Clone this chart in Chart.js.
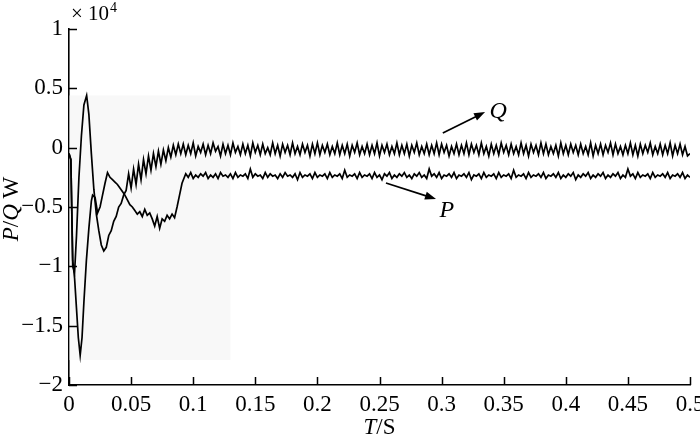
<!DOCTYPE html>
<html>
<head>
<meta charset="utf-8">
<script src="https://cdn.jsdelivr.net/npm/chart.js@4"></script>
<style>
  html, body { margin: 0; padding: 0; background: #fff; }
  #wrap { width: 700px; height: 438px; position: relative; }
</style>
</head>
<body>
<div id="wrap"><canvas id="pq-chart"></canvas></div>
<script>
/* ── DATA (values in units of 10^4 W) ── */
const X_TICKS  = [0, 0.05, 0.1, 0.15, 0.2, 0.25, 0.3, 0.35, 0.4, 0.45, 0.5];
const X_LABELS = ['0', '0.05', '0.1', '0.15', '0.2', '0.25', '0.3', '0.35', '0.4', '0.45', '0.5'];
const Y_TICKS  = [1, 0.5, 0, -0.5, -1, -1.5, -2];
const Y_LABELS = ['1', '0.5', '0', '\u22120.5', '\u22121', '\u22121.5', '\u22122'];

// start-up transient, read point by point
const Q_T = [0, 0.0015, 0.003, 0.0045, 0.006, 0.008, 0.010, 0.012, 0.0142, 0.016, 0.018, 0.020,
             0.022, 0.024, 0.026, 0.028, 0.030, 0.032, 0.034, 0.036, 0.038, 0.040, 0.042, 0.044];
const Q_V = [-0.05, -0.1, -1.0, -1.05, -0.75, -0.25, 0.1, 0.36, 0.44, 0.28, -0.05, -0.35,
             -0.56, -0.70, -0.82, -0.87, -0.84, -0.74, -0.70, -0.62, -0.58, -0.50, -0.47, -0.40];

const P_T = [0, 0.0015, 0.003, 0.0045, 0.006, 0.0075, 0.009, 0.0105, 0.012, 0.014, 0.016, 0.018,
             0.019, 0.021, 0.023, 0.025, 0.027, 0.029, 0.031, 0.033, 0.035, 0.037, 0.039, 0.041,
             0.043, 0.045, 0.047, 0.049, 0.051, 0.053, 0.055, 0.057, 0.059, 0.061, 0.063, 0.065,
             0.067, 0.069, 0.071, 0.073, 0.075, 0.077, 0.079, 0.081, 0.083, 0.085, 0.087, 0.089, 0.091];
const P_V = [-0.05, -0.1, -0.95, -1.1, -1.35, -1.6, -1.75, -1.6, -1.3, -0.95, -0.68, -0.45,
             -0.40, -0.42, -0.55, -0.50, -0.40, -0.30, -0.21, -0.25, -0.27, -0.29, -0.31, -0.34,
             -0.37, -0.40, -0.44, -0.48, -0.50, -0.53, -0.56, -0.54, -0.58, -0.52, -0.57, -0.55,
             -0.60, -0.66, -0.58, -0.68, -0.60, -0.62, -0.57, -0.60, -0.56, -0.59, -0.50, -0.40, -0.30];

// ripple section, sampled every SAMPLE_DT seconds
const SAMPLE_DT = 0.002;
const Q_RIPPLE_T0 = 0.046;
const Q_RIPPLE = [
  -0.36, -0.22, -0.34, -0.18, -0.31, -0.14, -0.27, -0.10, -0.22, -0.07,
  -0.19, -0.05, -0.16, -0.03, -0.14, -0.02, -0.11, 0.00, -0.08, 0.02,
  -0.06, 0.03, -0.05,
  0.03, -0.06, 0.02, -0.05, 0.04, -0.07, 0.01, -0.04, 0.03, -0.06,
  0.02, -0.05, 0.04, -0.03, 0.01, -0.07, 0.03, -0.05, 0.02, -0.06,
  0.04, -0.04, 0.01, -0.06, 0.03, -0.05, 0.02, -0.07, 0.04, -0.04,
  0.02, -0.06, 0.03, -0.05, 0.00, -0.06, 0.04, -0.05, 0.02, -0.07,
  0.03, -0.04, 0.02, -0.06, 0.04, -0.05, 0.01, -0.06, 0.03, -0.04,
  0.02, -0.07, 0.03, -0.05, 0.04, -0.06, 0.02, -0.04, 0.03, -0.06,
  0.01, -0.05, 0.04, -0.06, 0.02, -0.05, 0.03, -0.07, 0.02, -0.04,
  0.04, -0.06, 0.01, -0.05, 0.03, -0.06, 0.02, -0.05, 0.04, -0.07,
  0.02, -0.04, 0.03, -0.06, 0.01, -0.05, 0.04, -0.06, 0.02, -0.05,
  0.03, -0.07, 0.02, -0.04, 0.04, -0.06, 0.01, -0.05, 0.03, -0.06,
  0.02, -0.05, 0.04, -0.06, 0.03, -0.04, 0.02, -0.07, 0.01, -0.05,
  0.03, -0.06, 0.02, -0.05, 0.04, -0.06, 0.03, -0.04, 0.02, -0.06,
  0.04, -0.05, 0.01, -0.07, 0.03, -0.05, 0.02, -0.06, 0.04, -0.04,
  0.02, -0.06, 0.03, -0.05, 0.01, -0.06, 0.04, -0.05, 0.02, -0.07,
  0.03, -0.04, 0.02, -0.06, 0.04, -0.05, 0.03, -0.06, 0.01, -0.05,
  0.02, -0.07, 0.04, -0.05, 0.02, -0.06, 0.03, -0.04, 0.02, -0.06,
  0.03, -0.05, 0.01, -0.06, 0.04, -0.07, 0.02, -0.05, 0.03, -0.06,
  0.02, -0.04, 0.04, -0.06, 0.03, -0.05, 0.01, -0.06, 0.02, -0.05,
  0.04, -0.06, 0.02, -0.07, 0.03, -0.05, 0.02, -0.04, 0.04, -0.06,
  0.01, -0.05, 0.03, -0.06, 0.02, -0.05, 0.04, -0.07, 0.02, -0.05,
  0.03, -0.06, 0.01, -0.07, -0.05
];

const P_RIPPLE_T0 = 0.094;
const P_RIPPLE = [
  -0.22, -0.25, -0.21, -0.26, -0.23, -0.25, -0.22, -0.24, -0.21, -0.26,
  -0.23, -0.25, -0.22, -0.26, -0.21, -0.24, -0.23, -0.25, -0.22, -0.26,
  -0.21, -0.25, -0.23, -0.24, -0.22, -0.26, -0.18, -0.25, -0.22, -0.24,
  -0.23, -0.26, -0.21, -0.25, -0.22, -0.24, -0.23, -0.26, -0.22, -0.25,
  -0.21, -0.24, -0.23, -0.25, -0.22, -0.27, -0.21, -0.25, -0.23, -0.24,
  -0.22, -0.26, -0.21, -0.25, -0.23, -0.24, -0.22, -0.26, -0.21, -0.25,
  -0.23, -0.24, -0.22, -0.26, -0.19, -0.25, -0.23, -0.24, -0.22, -0.26,
  -0.21, -0.25, -0.23, -0.24, -0.22, -0.26, -0.21, -0.25, -0.23, -0.27,
  -0.22, -0.24, -0.21, -0.26, -0.23, -0.25, -0.22, -0.24, -0.21, -0.25,
  -0.23, -0.26, -0.22, -0.24, -0.21, -0.25, -0.23, -0.26, -0.18, -0.24,
  -0.22, -0.25, -0.21, -0.26, -0.23, -0.24, -0.22, -0.25, -0.21, -0.26,
  -0.23, -0.24, -0.22, -0.25, -0.21, -0.27, -0.23, -0.24, -0.22, -0.26,
  -0.21, -0.25, -0.23, -0.24, -0.22, -0.26, -0.21, -0.25, -0.23, -0.24,
  -0.22, -0.26, -0.19, -0.25, -0.23, -0.24, -0.22, -0.26, -0.21, -0.25,
  -0.23, -0.24, -0.22, -0.25, -0.21, -0.26, -0.23, -0.24, -0.22, -0.25,
  -0.21, -0.26, -0.23, -0.25, -0.22, -0.24, -0.21, -0.27, -0.23, -0.25,
  -0.22, -0.24, -0.21, -0.26, -0.23, -0.25, -0.22, -0.24, -0.21, -0.26,
  -0.23, -0.25, -0.22, -0.24, -0.21, -0.26, -0.23, -0.25, -0.18, -0.24,
  -0.22, -0.26, -0.21, -0.25, -0.23, -0.24, -0.22, -0.26, -0.21, -0.25,
  -0.23, -0.24, -0.22, -0.25, -0.21, -0.26, -0.23, -0.24, -0.22, -0.25,
  -0.21, -0.26, -0.23, -0.25
];

// light grey box behind the transient, and the two arrow labels (data coords)
const SHADE = { t0: 0.0005, t1: 0.13, v0: -1.79, v1: 0.44 };
const ARROWS = [
  { label: 'Q', from: [0.301, 0.124], to: [0.335, 0.30], text: [0.3455, 0.305] },
  { label: 'P', from: [0.2552, -0.298], to: [0.2955, -0.4325], text: [0.3043, -0.534] },
];

/* ── HELPERS ── */
const SERIF = "'Liberation Serif', 'Times New Roman', serif";
const TICK_FONT = { family: SERIF, size: 23 };

function buildSeries(ts, vs, t0, ripple) {
  const pts = ts.map((t, i) => ({ x: t, y: vs[i] }));
  ripple.forEach((v, i) => pts.push({ x: +(t0 + i * SAMPLE_DT).toFixed(4), y: v }));
  return pts;
}

function drawRuns(ctx, runs, x, y, align) {
  let w = 0;
  runs.forEach(r => { ctx.font = r[1]; w += ctx.measureText(r[0]).width; });
  let cx = align === 'center' ? x - w / 2 : x;
  runs.forEach(r => {
    ctx.font = r[1];
    ctx.fillText(r[0], cx, y);
    cx += ctx.measureText(r[0]).width;
  });
}

/* ── PLUGINS ── */
const shadePlugin = {
  id: 'shade',
  beforeDatasetsDraw(chart) {
    const { ctx, scales: { x, y } } = chart;
    const l = x.getPixelForValue(SHADE.t0), r = x.getPixelForValue(SHADE.t1);
    const t = y.getPixelForValue(SHADE.v1), b = y.getPixelForValue(SHADE.v0);
    ctx.save();
    ctx.fillStyle = '#f8f8f8';
    ctx.fillRect(l, t, r - l, b - t);
    ctx.restore();
  },
};

const decorPlugin = {
  id: 'decor',
  afterDraw(chart) {
    const { ctx, chartArea: a, scales: { x, y } } = chart;
    ctx.save();
    ctx.strokeStyle = '#000';
    ctx.fillStyle = '#000';
    ctx.lineWidth = 1.5;

    // inward tick marks
    ctx.beginPath();
    X_TICKS.forEach(v => {
      const px = Math.round(x.getPixelForValue(v)) + 0.5;
      ctx.moveTo(px, a.bottom); ctx.lineTo(px, a.bottom - 8);
    });
    Y_TICKS.forEach(v => {
      const py = Math.round(y.getPixelForValue(v)) + 0.5;
      ctx.moveTo(a.left, py); ctx.lineTo(a.left + 8, py);
    });
    ctx.stroke();

    // arrows + labels
    ARROWS.forEach(ar => {
      const x0 = x.getPixelForValue(ar.from[0]), y0 = y.getPixelForValue(ar.from[1]);
      const x1 = x.getPixelForValue(ar.to[0]),   y1 = y.getPixelForValue(ar.to[1]);
      const ang = Math.atan2(y1 - y0, x1 - x0);
      const hl = 11, hw = 4;
      ctx.lineWidth = 1.7;
      ctx.beginPath();
      ctx.moveTo(x0, y0);
      ctx.lineTo(x1 - Math.cos(ang) * hl * 0.8, y1 - Math.sin(ang) * hl * 0.8);
      ctx.stroke();
      ctx.beginPath();
      ctx.moveTo(x1, y1);
      ctx.lineTo(x1 - Math.cos(ang) * hl - Math.sin(ang) * hw, y1 - Math.sin(ang) * hl + Math.cos(ang) * hw);
      ctx.lineTo(x1 - Math.cos(ang) * hl + Math.sin(ang) * hw, y1 - Math.sin(ang) * hl - Math.cos(ang) * hw);
      ctx.closePath();
      ctx.fill();
      ctx.font = 'italic 24px ' + SERIF;
      ctx.textAlign = 'center';
      ctx.textBaseline = 'middle';
      ctx.fillText(ar.label, x.getPixelForValue(ar.text[0]), y.getPixelForValue(ar.text[1]));
    });

    // x10^4 multiplier above the y axis
    ctx.textAlign = 'left';
    ctx.textBaseline = 'alphabetic';
    ctx.font = '21px ' + SERIF;
    ctx.fillText('\u00d7 10', a.left + 2, 20);
    const w = ctx.measureText('\u00d7 10').width;
    ctx.font = '14px ' + SERIF;
    ctx.fillText('4', a.left + 3 + w, 12);

    // axis titles with italic symbols
    ctx.textBaseline = 'middle';
    drawRuns(ctx, [['T', 'italic 23px ' + SERIF], ['/S', '23px ' + SERIF]],
             (a.left + a.right) / 2, 428, 'center');
    ctx.translate(12, (a.top + a.bottom) / 2 + 2);
    ctx.rotate(-Math.PI / 2);
    drawRuns(ctx, [['P', 'italic 23px ' + SERIF], ['/', '23px ' + SERIF],
                   ['Q', 'italic 23px ' + SERIF], [' W', '23px ' + SERIF]], 0, 0, 'center');
    ctx.restore();
  },
};

/* ── CHART ── */
const lineStyle = { borderColor: '#000', borderWidth: 1.7, pointRadius: 0, tension: 0, fill: false };

new Chart(document.getElementById('pq-chart'), {
  type: 'line',
  data: {
    datasets: [
      { label: 'Q', data: buildSeries(Q_T, Q_V, Q_RIPPLE_T0, Q_RIPPLE), ...lineStyle },
      { label: 'P', data: buildSeries(P_T, P_V, P_RIPPLE_T0, P_RIPPLE), ...lineStyle },
    ],
  },
  options: {
    responsive: true,
    maintainAspectRatio: false,
    animation: false,
    devicePixelRatio: 1,
    layout: { padding: { top: 29, right: 10, left: 0, bottom: 0 } },
    plugins: { legend: { display: false }, tooltip: { enabled: false } },
    scales: {
      x: {
        type: 'linear',
        min: 0, max: 0.5,
        afterBuildTicks: s => { s.ticks = X_TICKS.map(v => ({ value: v })); },
        afterFit: s => { s.height = 53; s.paddingLeft = 0; s.paddingRight = 0; },
        ticks: { callback: (v, i) => X_LABELS[i], font: TICK_FONT, color: '#000', padding: 6, maxRotation: 0, autoSkip: false },
        grid: { display: false, drawTicks: false },
        border: { display: true, color: '#000', width: 1.6 },
      },
      y: {
        min: -2, max: 1,
        afterBuildTicks: s => { s.ticks = Y_TICKS.map(v => ({ value: v })); },
        afterFit: s => { s.width = 69; s.paddingTop = 0; s.paddingBottom = 0; },
        ticks: { callback: (v, i) => Y_LABELS[i], font: TICK_FONT, color: '#000', padding: 6, autoSkip: false },
        grid: { display: false, drawTicks: false },
        border: { display: true, color: '#000', width: 1.6 },
      },
    },
  },
  plugins: [shadePlugin, decorPlugin],
});
</script>
</body>
</html>
